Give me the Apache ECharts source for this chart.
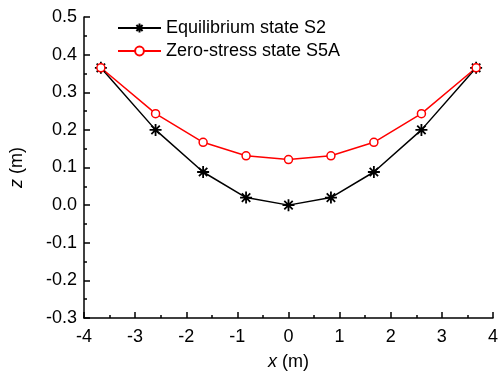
<!DOCTYPE html>
<html>
<head>
<meta charset="utf-8">
<script src="https://cdn.jsdelivr.net/npm/echarts@6/dist/echarts.min.js"></script>
<style>
  html, body { margin: 0; padding: 0; background: #fff; }
  #chart { width: 502px; height: 381px; }
</style>
</head>
<body>
<div id="chart"></div>
<script>
// x positions of the nodes (m)
const xs = [-3.67, -2.6, -1.67, -0.83, 0, 0.83, 1.67, 2.6, 3.67]
// z values (m)
const zEquilibrium = [0.365, 0.2, 0.088, 0.02, 0, 0.02, 0.088, 0.2, 0.365]
const zZeroStress = [0.365, 0.243, 0.167, 0.131, 0.121, 0.131, 0.167, 0.243, 0.365]
const seriesNames = ['Equilibrium state S2', 'Zero-stress state S5A']

const chart = echarts.init(document.getElementById('chart'))

// asterisk marker
const star = 'path://M0,-10L0,10M-10,0L10,0M-7,-7L7,7M-7,7L7,-7'
const font = 'Liberation Sans, Arial, sans-serif'
const fs = 18

const pairs = (ys) => xs.map((x, i) => [x, ys[i]])

const axisCommon = {
    axisLine: { show: true, onZero: false, lineStyle: { color: '#000', width: 1.5 } },
    axisTick: { show: true, inside: true, length: 6, lineStyle: { color: '#000', width: 1.5 } },
    minorTick: { show: true, splitNumber: 2, length: 3, lineStyle: { color: '#000', width: 1.5 } },
    splitLine: { show: false },
    nameLocation: 'middle',
    nameTextStyle: {
        fontFamily: font, fontSize: fs, color: '#000',
        rich: { i: { fontStyle: 'italic', fontFamily: font, fontSize: fs, color: '#000' } }
    }
}

const option = {
    backgroundColor: '#fff',
    animation: false,
    grid: { left: 84, right: 9, top: 17, bottom: 63 },
    legend: {
        orient: 'vertical',
        left: 112,
        top: 14,
        itemWidth: 43,
        itemHeight: 11,
        itemGap: 5,
        textStyle: { fontFamily: font, fontSize: fs, color: '#000' },
        data: seriesNames
    },
    xAxis: Object.assign({}, axisCommon, {
        type: 'value',
        min: -4,
        max: 4,
        interval: 1,
        name: '{i|x} (m)',
        nameGap: 35,
        axisLabel: { fontFamily: font, fontSize: fs, color: '#000', margin: 10 }
    }),
    yAxis: Object.assign({}, axisCommon, {
        type: 'value',
        min: -0.3,
        max: 0.5,
        interval: 0.1,
        name: '{i|z} (m)',
        nameGap: 58,
        axisLabel: {
            fontFamily: font, fontSize: fs, color: '#000', margin: 7,
            formatter: (v) => v.toFixed(1)
        }
    }),
    series: [
        {
            name: seriesNames[0],
            type: 'line',
            data: pairs(zEquilibrium),
            symbol: star,
            symbolSize: 12,
            lineStyle: { color: '#000', width: 1.5 },
            itemStyle: { color: '#000', borderColor: '#000', borderWidth: 1.8 }
        },
        {
            name: seriesNames[1],
            type: 'line',
            data: pairs(zZeroStress),
            symbol: 'circle',
            symbolSize: 8,
            lineStyle: { color: '#ff0000', width: 1.5 },
            itemStyle: { color: '#fff', borderColor: '#ff0000', borderWidth: 1.5 }
        }
    ]
}

chart.setOption(option)
</script>
</body>
</html>
